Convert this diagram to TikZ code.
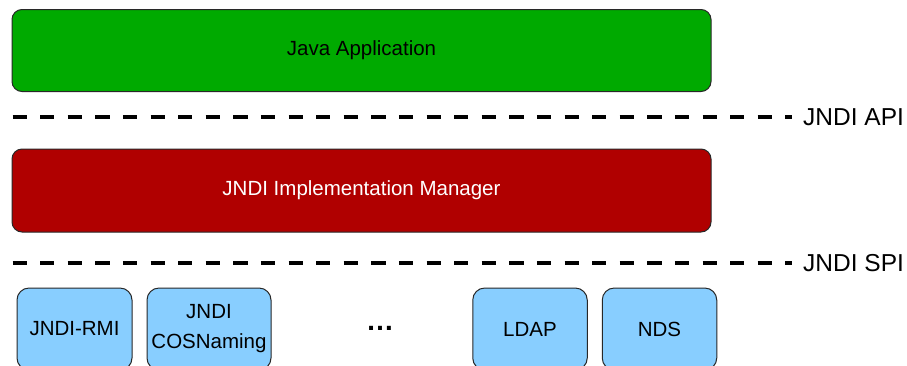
\documentclass[tikz,border=0pt]{standalone}
\usepackage{fontspec}
\setmainfont{Liberation Sans}
\definecolor{appgreen}{RGB}{0,170,0}
\definecolor{mgrred}{RGB}{176,0,0}
\definecolor{provblue}{RGB}{136,206,255}
\definecolor{edgegray}{RGB}{40,40,40}
\tikzset{
  layerbox/.style={draw=edgegray, line width=1pt, rounded corners=10pt,
    minimum width=699pt, minimum height=82pt, inner sep=0pt,
    font=\fontsize{20.5}{24}\selectfont},
  provbox/.style={draw=edgegray, line width=1pt, rounded corners=12pt,
    fill=provblue, minimum height=82pt, inner sep=0pt, align=center,
    font=\fontsize{20.5}{30}\selectfont},
  apiline/.style={line width=4pt, dash pattern=on 14.3pt off 13.3pt},
  apilabel/.style={anchor=west, inner sep=0pt, font=\fontsize{24.5}{28}\selectfont}
}
\begin{document}
\begin{tikzpicture}[x=1pt,y=-1pt]
  \useasboundingbox (0,0) rectangle (907,365);
  \clip (0,0) rectangle (907,365);
  \fill[white] (0,0) rectangle (907,365);

  % application layer
  \node[layerbox, fill=appgreen] (app) at (361.5,50.5) {Java Application};

  % API boundary
  \coordinate (apiL) at (12.5,117);
  \coordinate (apiR) at (792,117);
  \draw[apiline] (apiL) -- (apiR);
  \node[apilabel] (apiText) at (803,117) {JNDI API};

  % naming manager layer
  \node[layerbox, fill=mgrred, text=white, minimum height=83pt] (mgr) at (361.5,190.5) {JNDI Implementation Manager};

  % SPI boundary
  \coordinate (spiL) at (12.5,263);
  \coordinate (spiR) at (792,263);
  \draw[apiline] (spiL) -- (spiR);
  \node[apilabel] (spiText) at (803,263) {JNDI SPI};

  % service providers
  \node[provbox, minimum width=115pt] (rmi) at (74.5,329) {JNDI-RMI};
  \node[provbox, minimum width=124pt] (cos) at (209,329) {JNDI\\COSNaming};
  \node[inner sep=0pt, anchor=base, font=\fontsize{28}{28}\selectfont\bfseries] (more) at (380,330.5) {…};
  \node[provbox, minimum width=114.5pt] (ldap) at (530,329) {LDAP};
  \node[provbox, minimum width=114.5pt] (nds) at (659.5,329) {NDS};
\end{tikzpicture}
\end{document}
